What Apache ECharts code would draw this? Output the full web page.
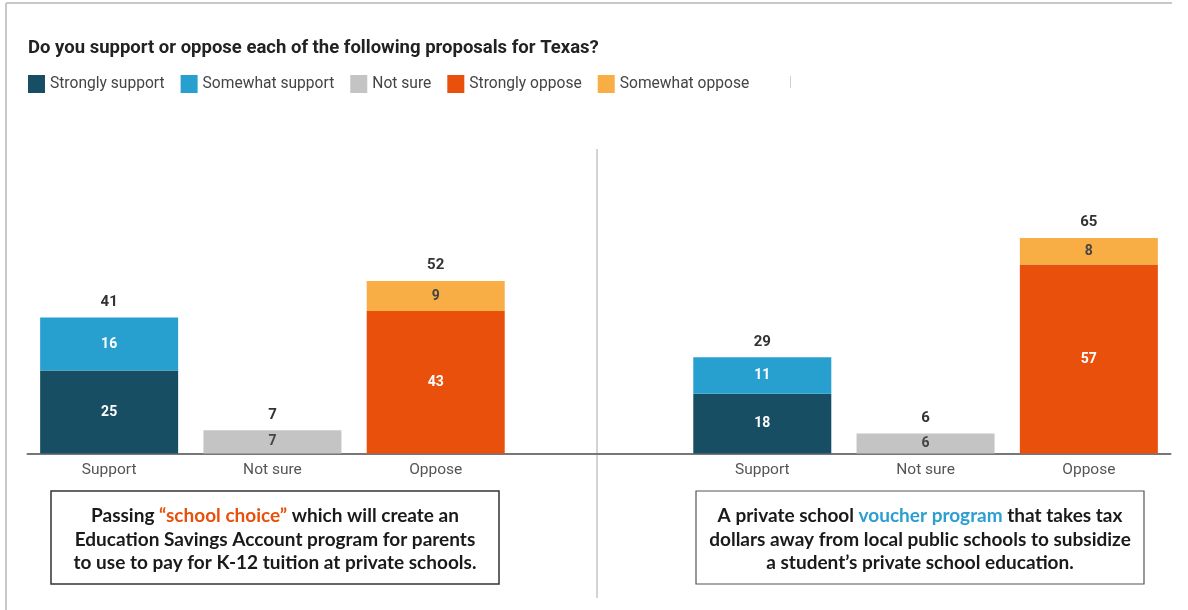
<!DOCTYPE html>
<html>
<head>
<meta charset="utf-8">
<script src="https://cdn.jsdelivr.net/npm/echarts@6/dist/echarts.min.js"></script>
<style>
  html, body { margin: 0; padding: 0; background: #fff; }
  #chart { width: 1188px; height: 610px; }
</style>
</head>
<body>
<div id="chart"></div>
<script>
// Response categories and the two proposals
const categories = ['Support', 'Not sure', 'Oppose'];
const proposals = ['esa', 'voucher'];

// Shares (%) per proposal: [school choice / ESA, private school voucher]
const stronglySupport = [25, 18];
const somewhatSupport = [16, 11];
const notSure = [7, 6];
const stronglyOppose = [43, 57];
const somewhatOppose = [9, 8];

const legendNames = ['Strongly support', 'Somewhat support', 'Not sure', 'Strongly oppose', 'Somewhat oppose'];
const colors = ['#174e63', '#27a0cf', '#c4c4c4', '#e8500b', '#f8ae45'];

// One shared category axis: three slots per proposal with an empty slot between them
const slotCount = proposals.length * (categories.length + 1) - 1;
const axisData = [];
proposals.forEach(function (p, pi) {
  categories.forEach(function (c) { axisData.push(p + ':' + c); });
  if (pi < proposals.length - 1) axisData.push('gap:');
});
function slot(pi, ci) { return pi * (categories.length + 1) + ci; }
function column(ci, values) {
  const arr = new Array(slotCount).fill('-');
  values.forEach(function (v, pi) { arr[slot(pi, ci)] = v; });
  return arr;
}

const totals = new Array(slotCount).fill(null);
const zeroTop = new Array(slotCount).fill('-');
proposals.forEach(function (p, pi) {
  totals[slot(pi, 0)] = stronglySupport[pi] + somewhatSupport[pi];
  totals[slot(pi, 1)] = notSure[pi];
  totals[slot(pi, 2)] = stronglyOppose[pi] + somewhatOppose[pi];
  [0, 1, 2].forEach(function (ci) { zeroTop[slot(pi, ci)] = 0; });
});

const FONT = 'Roboto, "Noto Sans", sans-serif';
const BOX_FONT = 'bold 19px Lato, sans-serif';

function segment(name, color, data, labelColor) {
  return {
    name: name,
    type: 'bar',
    stack: 'all',
    barWidth: 138,
    data: data,
    itemStyle: { color: color },
    label: {
      show: true,
      position: 'inside',
      color: labelColor,
      fontFamily: FONT,
      fontWeight: 'bold',
      fontSize: 14
    },
    emphasis: { disabled: true }
  };
}

const chart = echarts.init(document.getElementById('chart'), null, { renderer: 'canvas' });

chart.setOption({
  animation: false,
  backgroundColor: '#ffffff',
  title: {
    text: 'Do you support or oppose each of the following proposals for Texas?',
    left: 23,
    top: 34,
    textStyle: { fontFamily: FONT, fontWeight: 'bold', fontSize: 18.5, color: '#222' }
  },
  legend: {
    data: legendNames,
    left: 23,
    top: 70,
    itemWidth: 17,
    itemHeight: 18,
    itemGap: 16,
    icon: 'rect',
    selectedMode: false,
    textStyle: { fontFamily: FONT, fontSize: 15.6, color: '#444' }
  },
  grid: { left: 27.5, right: 17.5, top: 221.4, bottom: 156.5, containLabel: false },
  xAxis: {
    type: 'category',
    data: axisData,
    axisLine: { lineStyle: { color: '#777', width: 2 } },
    axisTick: { show: false },
    axisLabel: {
      interval: 0,
      margin: 9,
      fontFamily: FONT,
      fontSize: 15.5,
      color: '#555',
      formatter: function (v) { return v.split(':')[1]; }
    }
  },
  yAxis: { type: 'value', min: 0, max: 70, show: false, splitLine: { show: false } },
  series: [
    segment('Strongly support', colors[0], column(0, stronglySupport), '#ffffff'),
    segment('Somewhat support', colors[1], column(0, somewhatSupport), '#ffffff'),
    segment('Not sure', colors[2], column(1, notSure), '#444'),
    segment('Strongly oppose', colors[3], column(2, stronglyOppose), '#ffffff'),
    segment('Somewhat oppose', colors[4], column(2, somewhatOppose), '#444'),
    {
      name: 'Total',
      type: 'bar',
      stack: 'all',
      barWidth: 138,
      data: zeroTop,
      itemStyle: { color: 'transparent' },
      label: {
        show: true,
        position: 'top',
        distance: 8,
        color: '#333',
        fontFamily: FONT,
        fontWeight: 'bold',
        fontSize: 15,
        formatter: function (p) { return String(totals[p.dataIndex]); }
      },
      emphasis: { disabled: true }
    }
  ],
  graphic: [
    // outer frame
    { type: 'line', shape: { x1: 6, y1: 3, x2: 1172, y2: 3 }, style: { stroke: '#c8c8c8', lineWidth: 2 } },
    { type: 'line', shape: { x1: 6, y1: 3, x2: 6, y2: 610 }, style: { stroke: '#c8c8c8', lineWidth: 2 } },
    // small mark at the end of the legend row
    { type: 'line', shape: { x1: 790.5, y1: 76, x2: 790.5, y2: 88 }, style: { stroke: '#d0d0d0', lineWidth: 1 } },
    // divider between the two proposals
    { type: 'line', shape: { x1: 597, y1: 149, x2: 597, y2: 598 }, style: { stroke: '#d4d4d4', lineWidth: 2 } },
    // proposal descriptions
    { type: 'rect', shape: { x: 51, y: 491, width: 448, height: 93 }, style: { fill: '#fff', stroke: '#333', lineWidth: 1.5 } },
    { type: 'rect', shape: { x: 696, y: 491, width: 448, height: 93 }, style: { fill: '#fff', stroke: '#555', lineWidth: 1.2 } },
    {
      type: 'text',
      x: 275, y: 539.5,
      style: {
        text: 'Passing {o|\u201Cschool choice\u201D} which will create an\nEducation Savings Account program for parents\nto use to pay for K-12 tuition at private schools.',
        align: 'center', verticalAlign: 'middle',
        fill: '#1a1a1a',
        font: BOX_FONT,
        lineHeight: 23.5,
        rich: { o: { fill: '#e8500b', font: BOX_FONT, lineHeight: 23.5 } }
      }
    },
    {
      type: 'text',
      x: 920, y: 539.5,
      style: {
        text: 'A private school {b|voucher program} that takes tax\ndollars away from local public schools to subsidize\na student\u2019s private school education.',
        align: 'center', verticalAlign: 'middle',
        fill: '#1a1a1a',
        font: BOX_FONT,
        lineHeight: 23.5,
        rich: { b: { fill: '#2a9fd0', font: BOX_FONT, lineHeight: 23.5 } }
      }
    }
  ]
});
</script>
</body>
</html>
